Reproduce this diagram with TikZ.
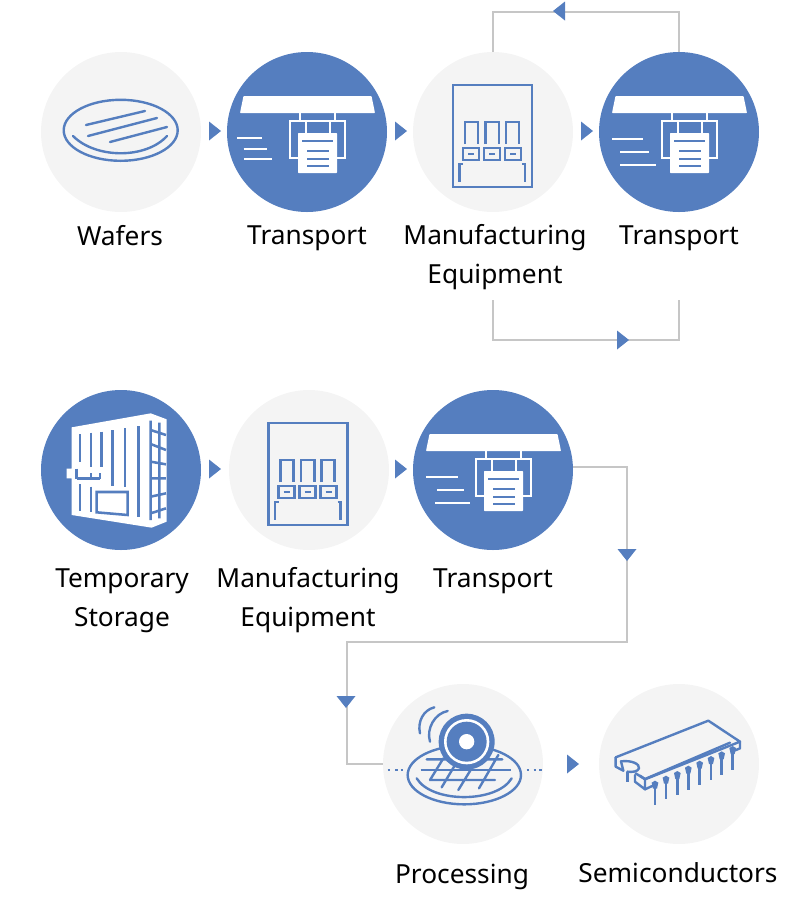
\documentclass[tikz,border=0pt]{standalone}
\usepackage{fontspec}
\setmainfont{Noto Sans}
\definecolor{bl}{HTML}{557EBF}
\definecolor{pale}{HTML}{F4F4F4}
\definecolor{gline}{HTML}{C6C6C6}
\tikzset{
  x=0.75pt,y=-0.75pt,
  dot/.style={circle,minimum size=120pt,inner sep=0pt,outer sep=0pt},
  palecirc/.style={dot,fill=pale},
  bluecirc/.style={dot,fill=bl},
  lab/.style={font=\fontsize{19.7pt}{29pt}\selectfont,text=black,align=center,inner sep=0pt},
  link/.style={draw=gline,line width=1.5pt},
  icon/.style={draw=bl,line width=1.8pt,line cap=round,line join=round},
  sharp/.style={draw=bl,line width=1.9pt,line cap=butt,line join=miter},
  wicon/.style={draw=white,line width=1.5pt},
  tri/.style={fill=bl,draw=none},
}
\newcommand{\triR}[2]{\fill[tri] (#1,#2-9.5) -- (#1+12,#2) -- (#1,#2+9.5) -- cycle;}
\newcommand{\triL}[2]{\fill[tri] (#1+12,#2-9.5) -- (#1,#2) -- (#1+12,#2+9.5) -- cycle;}
\newcommand{\triD}[2]{\fill[tri] (#1-9.5,#2) -- (#1,#2+12) -- (#1+9.5,#2) -- cycle;}
\newcommand{\transporticon}[2]{%
 \begin{scope}[shift={(#1,#2)}]
  \fill[white,rounded corners=0.5pt] (-63.5,-35) -- (64.5,-35) -- (68,-18) -- (-67,-18) -- cycle;
  \draw[wicon] (-7,-18) -- (-7,-10) (28,-18) -- (28,-10);
  \draw[wicon] (-17,-10) rectangle (38,27);
  \draw[wicon] (-1.5,-10) -- (-1.5,3) (23,-10) -- (23,3);
  \fill[white,rounded corners=0.5pt] (-9,2) rectangle (30,42);
  \draw[bl,line width=1.5pt] (-5,10) -- (26,10) (0,20) -- (21.5,20) (0,28) -- (21.5,28) (0,35) -- (21.5,35);
 \end{scope}}
\newcommand{\equipicon}[2]{%
 \begin{scope}[shift={(#1,#2)}]
  \draw[sharp] (-40,-46) rectangle (39,56);
  \foreach \a/\b in {-28/-15,-7.6/6,13/26}{\draw[sharp] (\a,13) -- (\a,-9) -- (\b,-9) -- (\b,13);}
  \foreach \a/\b in {-30/-14,-9/7,12/28}{\draw[sharp] (\a,17) rectangle (\b,29);
    \draw[bl,line width=1.7pt] (\a+5,23) -- (\b-5,23);}
  \draw[sharp] (-30,33) -- (-33.7,33) -- (-33.7,51) (29,33) -- (32,33) -- (32,51);
 \end{scope}}
\begin{document}
\begin{tikzpicture}
\useasboundingbox (0,0) rectangle (800,908);
\coordinate (topL) at (493,12);
\coordinate (topR) at (679,12);
\coordinate (lowA) at (493,300);
\coordinate (lowB) at (493,340);
\coordinate (lowC) at (679,340);
\coordinate (lowD) at (679,300);
\coordinate (r1) at (627,467);
\coordinate (r2) at (627,642);
\coordinate (r3) at (347,642);
\coordinate (r4) at (347,764);

\node[palecirc] (wafers) at (121,132) {};
\node[bluecirc] (tr1) at (307,132) {};
\node[palecirc] (eq1) at (493,132) {};
\node[bluecirc] (tr2) at (679,132) {};
\node[bluecirc] (temp) at (121,470) {};
\node[palecirc] (eq2) at (309,470) {};
\node[bluecirc] (tr3) at (493,470) {};
\node[palecirc] (proc) at (463,764) {};
\node[palecirc] (semi) at (679,764) {};

\draw[link] (eq1.north) -- (topL) -- (topR) -- (tr2.north);
\draw[link] (lowA) -- (lowB) -- (lowC) -- (lowD);
\draw[link] (tr3.east |- r1) -- (r1) -- (r2) -- (r3) -- (r4) -- (proc.west);

\triR{209}{131}\triR{395}{131}\triR{581}{131}
\triR{209}{469}\triR{395}{469}\triR{567}{764}
\triL{553}{11}\triR{617}{340}
\triD{627}{549}\triD{346}{696}

% wafers
\begin{scope}[shift={(121,131)}]
 \draw[icon] (-0.3,-0.7) ellipse (57 and 30.5);
 \draw[icon] (-35,-6) -- (24,-20) (-33,5) -- (36,-13) (-11,11) -- (46,-4);
 \draw[icon] (-48,5) .. controls (-25,28) and (25,28) .. (46,5);
\end{scope}

% transport
\transporticon{307}{131}
\draw[wicon] (237,138) -- (262,138) (243.5,148.5) -- (266.5,148.5) (244,158.5) -- (272,158.5);
\transporticon{679}{131}
\draw[wicon] (612,139) -- (643,139) (620,152) -- (649,152) (620,165) -- (656,165);
\transporticon{493}{469}
\draw[wicon] (426,477) -- (458,477) (437,490) -- (464,490) (435,503) -- (470,503);

% equipment
\equipicon{493}{131}
\equipicon{308.5}{469}

% building
\begin{scope}[shift={(30,380)},scale=1/3]
 \fill[white] (125,142) -- (362,100) -- (410,118) -- (410,425) -- (365,443) -- (125,405) -- (125,295) -- (110,295) -- (110,266) -- (125,266) -- cycle;
 \draw[bl,line width=1.9pt] (150,162) -- (150,245) (183,158) -- (183,262) (215,155) -- (215,262)
   (247,150) -- (247,318) (285,145) -- (285,322) (325,138) -- (325,412)
   (150,313) -- (150,393) (183,320) -- (183,395)
   (140,296) -- (210,296) (210,280) -- (210,296) (183,280) -- (183,296) (140,266) -- (140,296);
 \draw[bl,line width=1.9pt] (200,336) -- (293,336) -- (293,405) -- (200,397) -- cycle;
 \draw[bl,line width=1.9pt] (362,122) -- (362,420) (388,128) -- (388,415)
   (362,150) -- (408,165) (362,192) -- (408,210) (362,245) -- (408,253)
   (362,295) -- (408,295) (362,350) -- (408,340) (362,400) -- (408,385);
\end{scope}

% processing
\begin{scope}[shift={(375,680)},scale=1/3]
 \draw[icon] (268,285) ellipse (170 and 88);
 \draw[icon] (125,295) .. controls (170,370) and (365,370) .. (410,295);
 \draw[icon] (155,238) -- (382,238) (165,300) -- (360,300)
   (165,300) -- (205,235) (200,322) -- (240,255) (250,330) -- (290,265) (312,325) -- (370,225);
 \draw[bl,line width=2.2pt] (137,270) -- (408,270);
 \fill[bl] (275,185) circle (84);
 \fill[white] (275,185) circle (68);
 \fill[bl] (275,185) circle (60);
 \fill[white] (275,185) circle (23);
 \draw[icon] (135,160) .. controls (127,125) and (145,90) .. (178,82);
 \draw[icon] (165,185) .. controls (153,145) and (180,100) .. (218,93);
 \draw[bl,line width=2pt] (38,270) -- (46,270) (60,270) -- (68,270) (77,270) -- (85,270)
   (455,270) -- (463,270) (476,270) -- (484,270) (492,270) -- (500,270);
\end{scope}

% chip
\begin{scope}[shift={(595,680)},scale=1/3]
 \draw[icon] (62,232) -- (340,122) -- (435,185) -- (150,298) -- (122,280);
 \draw[icon] (62,232) -- (62,260) -- (85,272);
 \draw[icon] (120,285) -- (120,305) -- (150,328) -- (150,298);
 \draw[icon] (150,328) -- (178,315);
 \draw[icon] (435,185) -- (435,205) -- (418,212);
 \draw[icon] (135,287) -- (150,297) -- (405,188);
 \draw[icon] (78,244) .. controls (110,240) and (135,252) .. (132,265) .. controls (129,275) and (112,277) .. (97,275);
 \draw[icon] (78,244) -- (85,272);
 \draw[bl,line width=1.8pt] (97,275) -- (97,307);
 \foreach \x/\y/\e in {180/312/375,213/297/358,247/283/345,280/267/330,314/252/315,348/238/300,380/224/285,413/208/270}{
   \draw[bl,line width=1.8pt] (\x,\y) -- (\x,\e);
   \fill[bl] (\x-10,\y-4) -- (\x,\y-10) -- (\x+10,\y-4) -- (\x+6,\y+14) -- (\x-6,\y+14) -- cycle;
 }
\end{scope}

% labels
\node[lab,anchor=base] (l1) at (120,245) {Wafers};
\node[lab,anchor=base] (l2) at (307,244) {Transport};
\node[lab,anchor=base] (l3) at (495,283) {Manufacturing\\Equipment};
\node[lab,anchor=base] (l4) at (679,244) {Transport};
\node[lab,anchor=base] (l5) at (122,626) {Temporary\\Storage};
\node[lab,anchor=base] (l6) at (308,626) {Manufacturing\\Equipment};
\node[lab,anchor=base] (l7) at (493,587) {Transport};
\node[lab,anchor=base] (l8) at (462,883) {Processing};
\node[lab,anchor=base] (l9) at (678,882) {Semiconductors};
\end{tikzpicture}
\end{document}
